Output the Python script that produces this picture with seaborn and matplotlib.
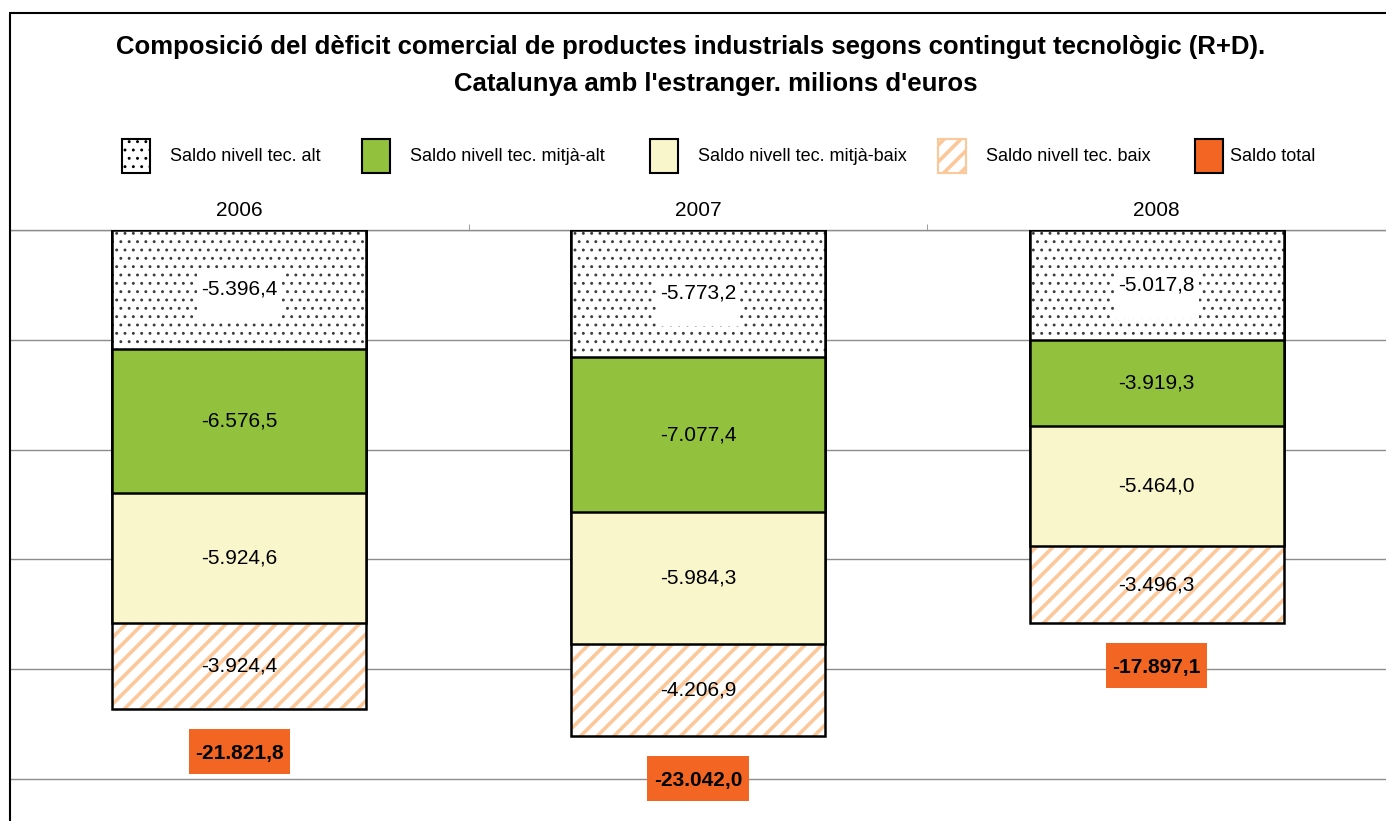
import matplotlib
matplotlib.use("Agg")
import matplotlib.pyplot as plt
import seaborn as sns
import numpy as np
from matplotlib.patches import Patch
from matplotlib.lines import Line2D
from matplotlib.path import Path

years = ["2006", "2007", "2008"]
alt = [-5396.4, -5773.2, -5017.8]
mitja_alt = [-6576.5, -7077.4, -3919.3]
mitja_baix = [-5924.6, -5984.3, -5464.0]
baix = [-3924.4, -4206.9, -3496.3]
total = [-21821.8, -23042.0, -17897.1]
series_names = ["Saldo nivell tec. alt", "Saldo nivell tec. mitjà-alt",
                "Saldo nivell tec. mitjà-baix", "Saldo nivell tec. baix", "Saldo total"]
title_lines = ["Composició del dèficit comercial de productes industrials segons contingut tecnològic (R+D).",
               "Catalunya amb l'estranger. milions d'euros"]

GREEN = "#92C13E"
YELLOW = "#FAF6CC"
ORANGE_H = "#FCC89A"
ORANGE = "#F26522"
GRID = "#8C8C8C"
DOT = "#3C3C3C"

sns.set_style("white")
plt.rcParams["font.family"] = ["Liberation Sans", "DejaVu Sans"]
plt.rcParams["text.color"] = "black"
plt.rcParams["xtick.color"] = "black"


def fmt(v):
    s = f"{v:,.1f}"
    return s.replace(",", "X").replace(".", ",").replace("X", ".")


def rect_box(left, right, bottom, top):
    def box(x0, y0, width, height, mutation_size):
        xa = x0 - left * mutation_size
        xb = x0 + width + right * mutation_size
        ya = y0 - bottom * mutation_size
        yb = y0 + height + top * mutation_size
        return Path([(xa, ya), (xb, ya), (xb, yb), (xa, yb), (xa, ya)],
                    [Path.MOVETO, Path.LINETO, Path.LINETO, Path.LINETO, Path.CLOSEPOLY])
    return box


def set_hlw(patches, lw):
    for p in patches:
        if hasattr(p, "set_hatch_linewidth"):
            p.set_hatch_linewidth(lw)


fig = plt.figure(figsize=(13.86, 8.21), dpi=100)
ax = fig.add_axes([10 / 1386, 0, 1 - 10 / 1386, (821 - 230) / 821])

layers = [alt, mitja_alt, mitja_baix, baix]
cum = np.cumsum(np.array(layers), axis=0)
W = 0.554
LW = 1.8

# baix hatch layer (full stack)
n0 = len(ax.patches)
with plt.rc_context({"hatch.linewidth": 2.6}):
    sns.barplot(x=years, y=cum[3], color="white", width=W, saturation=1, errorbar=None,
                hatch="//", edgecolor=ORANGE_H, linewidth=0, ax=ax, zorder=3)
set_hlw(ax.patches[n0:], 2.6)
sns.barplot(x=years, y=cum[3], color="black", fill=False, width=W, errorbar=None,
            linewidth=LW, ax=ax, zorder=3)
sns.barplot(x=years, y=cum[2], color=YELLOW, width=W, saturation=1, errorbar=None,
            edgecolor="black", linewidth=LW, ax=ax, zorder=4)
sns.barplot(x=years, y=cum[1], color=GREEN, width=W, saturation=1, errorbar=None,
            edgecolor="black", linewidth=LW, ax=ax, zorder=5)
n0 = len(ax.patches)
with plt.rc_context({"hatch.linewidth": 0.9}):
    sns.barplot(x=years, y=cum[0], color="white", width=W, saturation=1, errorbar=None,
                hatch="..", edgecolor=DOT, linewidth=0, ax=ax, zorder=6)
set_hlw(ax.patches[n0:], 0.9)
sns.barplot(x=years, y=cum[0], color="black", fill=False, width=W, errorbar=None,
            linewidth=LW, ax=ax, zorder=6)

# segment labels
for li, layer in enumerate(layers):
    for i in range(len(years)):
        top = cum[li - 1][i] if li > 0 else 0.0
        mid = top + layer[i] / 2
        kw = {}
        if li == 0:
            kw["bbox"] = dict(facecolor="white", edgecolor="none",
                              boxstyle=rect_box(0.2, 0.2, 1.1, 0.33))
        ax.text(i, mid, fmt(layer[i]), ha="center", va="center", fontsize=15,
                color="black", zorder=10, **kw)

# total labels
for i, t in enumerate(total):
    ax.annotate(fmt(t), xy=(i, t), xytext=(0, -36), textcoords="offset points",
                ha="center", va="baseline", fontsize=15, fontweight="bold", color="black",
                bbox=dict(facecolor=ORANGE, edgecolor="none", boxstyle=rect_box(0.31, 0.31, 0.52, 0.72)),
                zorder=10)

ax.set_ylim(-26910, 0)
ax.set_xlim(-0.5, 2.5)
ax.set_yticks([0, -5000, -10000, -15000, -20000, -25000])
ax.set_yticklabels([])
ax.tick_params(axis="y", length=0)
ax.grid(axis="y", color=GRID, linewidth=1, zorder=0)
ax.set_axisbelow(True)
ax.xaxis.tick_top()
ax.set_xticks(range(len(years)))
ax.set_xticklabels(years, fontsize=15)
ax.set_xticks([0.5, 1.5], minor=True)
ax.tick_params(axis="x", which="major", length=0, pad=7)
ax.tick_params(axis="x", which="minor", top=True, bottom=False, length=4, color=GRID, direction="out")
ax.set_xlabel("")
ax.set_ylabel("")
for s in ["bottom", "right", "left"]:
    ax.spines[s].set_visible(False)
ax.spines["top"].set_color(GRID)
ax.spines["top"].set_linewidth(1)

# frame of chart area
fig.add_artist(Line2D([10 / 1386, 10 / 1386], [0, 1 - 13 / 821], transform=fig.transFigure,
                      color="black", linewidth=1.5))
fig.add_artist(Line2D([10 / 1386, 1], [1 - 13 / 821, 1 - 13 / 821], transform=fig.transFigure,
                      color="black", linewidth=1.5))

fig.text(691 / 1386, 1 - 47 / 821, title_lines[0], ha="center", va="center",
         fontsize=18.5, fontweight="bold")
fig.text(716 / 1386, 1 - 84 / 821, title_lines[1], ha="center", va="center",
         fontsize=18.5, fontweight="bold")

handle_specs = [
    (dict(facecolor="white", edgecolor=DOT, hatch="..", linewidth=1.5), 0.9),
    (dict(facecolor=GREEN, edgecolor="black", linewidth=1.5), 1.0),
    (dict(facecolor=YELLOW, edgecolor="black", linewidth=1.5), 1.0),
    (dict(facecolor="white", edgecolor=ORANGE_H, hatch="//", linewidth=1.5), 2.6),
    (dict(facecolor=ORANGE, edgecolor="black", linewidth=1.5), 1.0),
]
leg_x = [122, 362, 650, 938, 1195]
leg_pad = [1.1, 1.1, 1.1, 1.1, 0.4]
for (spec, hlw), name, xpx, tp in zip(handle_specs, series_names, leg_x, leg_pad):
    with plt.rc_context({"hatch.linewidth": hlw}):
        h = Patch(**spec)
        set_hlw([h], hlw)
        leg = fig.legend([h], [name], loc="center left", bbox_to_anchor=(xpx / 1386, 1 - 156 / 821),
                         frameon=False, fontsize=13, handlelength=1.55, handleheight=2.55,
                         handletextpad=tp, borderpad=0, borderaxespad=0)
        for lp in leg.get_patches():
            set_hlw([lp], hlw)
            if spec.get("edgecolor") == DOT:
                lp.set_edgecolor("black")
                lp.set_hatch_color(DOT) if hasattr(lp, "set_hatch_color") else None

fig.savefig("out.png", dpi=100)
